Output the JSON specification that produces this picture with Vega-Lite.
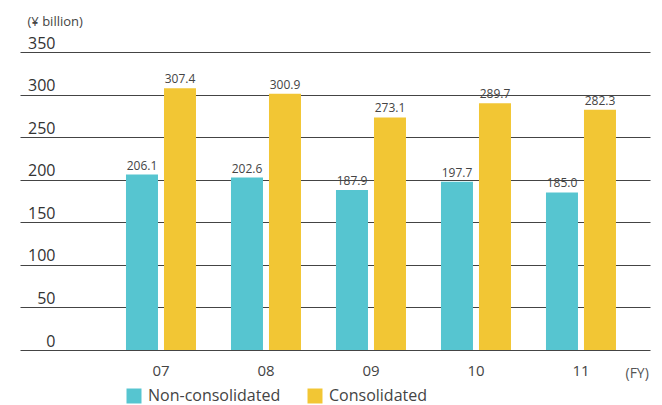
{
  "$schema": "https://vega.github.io/schema/vega-lite/v6.json",
  "width": 630,
  "height": 298,
  "autosize": {"type": "none"},
  "padding": {"left": 20, "top": 52, "right": 12, "bottom": 55},
  "background": "white",
  "config": {
    "view": {"stroke": null},
    "font": "Open Sans",
    "text": {"font": "Open Sans"}
  },
  "data": {
    "values": [
      {"year": "07", "type": "Non-consolidated", "value": 206.1},
      {"year": "07", "type": "Consolidated", "value": 307.4},
      {"year": "08", "type": "Non-consolidated", "value": 202.6},
      {"year": "08", "type": "Consolidated", "value": 300.9},
      {"year": "09", "type": "Non-consolidated", "value": 187.9},
      {"year": "09", "type": "Consolidated", "value": 273.1},
      {"year": "10", "type": "Non-consolidated", "value": 197.7},
      {"year": "10", "type": "Consolidated", "value": 289.7},
      {"year": "11", "type": "Non-consolidated", "value": 185.0},
      {"year": "11", "type": "Consolidated", "value": 282.3}
    ]
  },
  "encoding": {
    "x": {
      "field": "year",
      "type": "nominal",
      "scale": {"paddingInner": 0.3333, "paddingOuter": 0.6667, "align": 0.757},
      "axis": {
        "title": "(FY)",
        "titleX": 605,
        "titleY": 27,
        "titleAlign": "left",
        "titleBaseline": "alphabetic",
        "titleFontSize": 14,
        "titleFontWeight": "normal",
        "titleColor": "#555",
        "labelAngle": 0,
        "labelFontSize": 15,
        "labelColor": "#444",
        "labelPadding": 13,
        "labelBaseline": "top",
        "ticks": false,
        "domain": false
      }
    },
    "xOffset": {
      "field": "type",
      "type": "nominal",
      "sort": ["Non-consolidated", "Consolidated"],
      "scale": {"paddingInner": 0.158, "paddingOuter": 0}
    },
    "y": {
      "field": "value",
      "type": "quantitative",
      "scale": {"domain": [0, 350], "nice": false},
      "axis": {
        "title": "(¥ billion)",
        "titleX": 7,
        "titleY": -27,
        "titleAngle": 0,
        "titleAlign": "left",
        "titleBaseline": "alphabetic",
        "titleFontSize": 13,
        "titleFontWeight": "normal",
        "titleColor": "#444",
        "values": [0, 50, 100, 150, 200, 250, 300, 350],
        "labelAlign": "right",
        "labelBaseline": "alphabetic",
        "labelPadding": -35,
        "labelOffset": -4,
        "labelFontSize": 16,
        "labelColor": "#333",
        "ticks": false,
        "domain": false,
        "grid": true,
        "gridColor": "#444",
        "gridWidth": 1.2
      }
    }
  },
  "layer": [
    {
      "mark": {"type": "bar"},
      "encoding": {
        "color": {
          "field": "type",
          "type": "nominal",
          "sort": ["Non-consolidated", "Consolidated"],
          "scale": {"domain": ["Non-consolidated", "Consolidated"], "range": ["#56C5D0", "#F2C634"]},
          "legend": {
            "title": null,
            "orient": "none",
            "direction": "horizontal",
            "legendX": 106,
            "legendY": 336,
            "symbolType": "square",
            "symbolSize": 225,
            "symbolStrokeWidth": 0,
            "symbolOpacity": 1,
            "labelFontSize": 16,
            "labelColor": "#444",
            "labelOffset": 6,
            "columnPadding": 26
          }
        }
      }
    },
    {
      "mark": {"type": "text", "baseline": "alphabetic", "dy": -5, "fontSize": 12, "color": "#444"},
      "encoding": {
        "text": {"field": "value", "type": "quantitative", "format": ".1f"}
      }
    }
  ]
}
